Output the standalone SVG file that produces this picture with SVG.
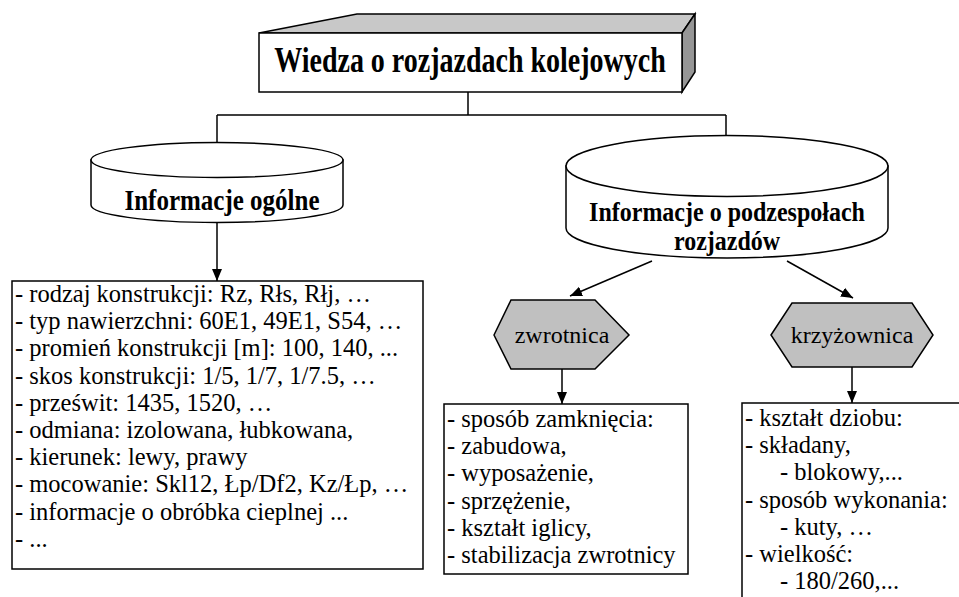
<svg xmlns="http://www.w3.org/2000/svg" width="959" height="597" viewBox="0 0 959 597">
<style>
.ln{fill:none;stroke:#000;stroke-width:1.5}
.sh{stroke:#000;stroke-width:1.5}
.body{font-family:"Liberation Serif",serif;font-size:24.5px;fill:#000}
.bold{font-family:"Liberation Serif",serif;font-weight:bold;fill:#000;text-anchor:middle}
.hex{font-family:"Liberation Serif",serif;font-size:24px;fill:#000;text-anchor:middle}
</style>
<defs>
<marker id="arr" markerUnits="userSpaceOnUse" markerWidth="12" markerHeight="12" viewBox="0 0 12 12" refX="12" refY="6" orient="auto">
<path d="M0,1 L12,6 L0,11 Z" fill="#000"/>
</marker>
</defs>
<rect width="959" height="597" fill="#fff"/>

<g id="connectors">
<path class="ln" d="M468,92 V115 M217,115 H726"/>
<path class="ln" d="M217,115 V157" marker-end="url(#arr)"/>
<path class="ln" d="M726,115 V165" marker-end="url(#arr)"/>
<path class="ln" d="M217,222 V281" marker-end="url(#arr)"/>
<path class="ln" d="M652,261 L570,296" marker-end="url(#arr)"/>
<path class="ln" d="M787,261 L853,298" marker-end="url(#arr)"/>
<path class="ln" d="M562,369 V404" marker-end="url(#arr)"/>
<path class="ln" d="M852,367 V403" marker-end="url(#arr)"/>
</g>

<g id="title">
<polygon class="sh" points="259,33 357,14 695,14 682,33" fill="#c8c8c8"/>
<polygon class="sh" points="682,33 695,14 695,72 682,92" fill="#969696"/>
<rect class="sh" x="259" y="33" width="423" height="59" fill="#fff"/>
<text class="bold" font-size="28" transform="translate(470,72) scale(1,1.25)">Wiedza o rozjazdach kolejowych</text>
</g>

<g id="info-ogolne">
<path class="sh" fill="#fff" d="M91,160 V205 A126,17.5 0 0 0 343,205 V160 Z"/>
<ellipse class="sh" cx="217" cy="160" rx="126" ry="17.5" fill="#fff"/>
<text class="bold" font-size="25" transform="translate(222,210) scale(1,1.22)">Informacje ogólne</text>
</g>

<g id="info-podzespoly">
<path class="sh" fill="#fff" d="M566,166 V228 A161,30 0 0 0 888,228 V166 Z"/>
<ellipse class="sh" cx="727" cy="166" rx="161" ry="30.5" fill="#fff"/>
<text class="bold" font-size="24" transform="translate(727,221) scale(1,1.17)">Informacje o podzespołach</text>
<text class="bold" font-size="24" transform="translate(727,250) scale(1,1.17)">rozjazdów</text>
</g>

<g id="lista-ogolne">
<rect class="sh" x="12" y="281" width="411" height="288" fill="#fff"/>
<text class="body" x="15" y="302">- rodzaj konstrukcji: Rz, Rłs, Rłj, …</text>
<text class="body" x="15" y="329.2">- typ nawierzchni: 60E1, 49E1, S54, …</text>
<text class="body" x="15" y="356.4">- promień konstrukcji [m]: 100, 140, ...</text>
<text class="body" x="15" y="383.6">- skos konstrukcji: 1/5, 1/7, 1/7.5, …</text>
<text class="body" x="15" y="410.8">- prześwit: 1435, 1520, …</text>
<text class="body" x="15" y="438">- odmiana: izolowana, łubkowana,</text>
<text class="body" x="15" y="465.2">- kierunek: lewy, prawy</text>
<text class="body" x="15" y="492.4">- mocowanie: Skl12, Łp/Df2, Kz/Łp, …</text>
<text class="body" x="15" y="519.6">- informacje o obróbka cieplnej ...</text>
<text class="body" x="15" y="546.8">- ...</text>
</g>

<g id="zwrotnica">
<polygon class="sh" points="494,335 511,300 595,300 629,335 595,369 511,369" fill="#c0c0c0"/>
<text class="hex" x="562" y="343">zwrotnica</text>
</g>

<g id="krzyzownica">
<polygon class="sh" points="771,335 792,303 912,303 933,335 912,367 792,367" fill="#c0c0c0"/>
<text class="hex" x="852" y="343">krzyżownica</text>
</g>

<g id="lista-zwrotnica">
<rect class="sh" x="444" y="404" width="244" height="170" fill="#fff"/>
<text class="body" x="447" y="427">- sposób zamknięcia:</text>
<text class="body" x="447" y="454.2">- zabudowa,</text>
<text class="body" x="447" y="481.4">- wyposażenie,</text>
<text class="body" x="447" y="508.6">- sprzężenie,</text>
<text class="body" x="447" y="535.8">- kształt iglicy,</text>
<text class="body" x="447" y="563">- stabilizacja zwrotnicy</text>
</g>

<g id="lista-krzyzownica">
<rect class="sh" x="742" y="403" width="230" height="210" fill="#fff"/>
<text class="body" x="745" y="426">- kształt dziobu:</text>
<text class="body" x="745" y="453.2">- składany,</text>
<text class="body" x="780" y="480.4">- blokowy,...</text>
<text class="body" x="745" y="507.6">- sposób wykonania:</text>
<text class="body" x="780" y="534.8">- kuty, …</text>
<text class="body" x="745" y="562">- wielkość:</text>
<text class="body" x="780" y="589.2">- 180/260,...</text>
</g>
</svg>
